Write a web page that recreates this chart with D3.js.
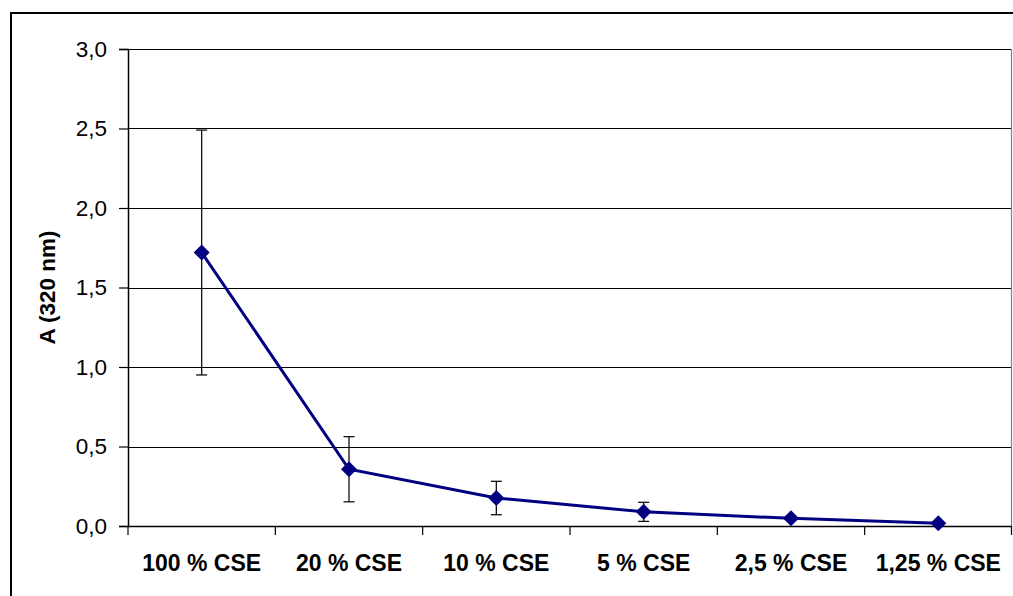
<!DOCTYPE html>
<html>
<head>
<meta charset="utf-8">
<script src="https://cdn.jsdelivr.net/npm/d3@7"></script>
<style>
  body { margin: 0; background: #fff; }
  svg { display: block; font-family: "Liberation Sans", Arial, sans-serif; }
</style>
</head>
<body>
<div id="chart"></div>
<script>
const categories = ["100 % CSE", "20 % CSE", "10 % CSE", "5 % CSE", "2,5 % CSE", "1,25 % CSE"];
const means = [1.72, 0.357, 0.176, 0.089, 0.048, 0.017];
const errors = [0.77, 0.205, 0.105, 0.06, 0.012, 0.005];
const yTicks = [0, 0.5, 1.0, 1.5, 2.0, 2.5, 3.0];

const width = 1013, height = 596;
const plot = { left: 128, top: 49, right: 1012, bottom: 526 };

const svg = d3.select("#chart")
  .append("svg")
  .attr("width", width)
  .attr("height", height);

// outer chart frame (cut off at right/bottom like the source)
svg.append("rect")
  .attr("x", 11)
  .attr("y", 13)
  .attr("width", width + 20)
  .attr("height", height + 20)
  .attr("fill", "#fff")
  .attr("stroke", "#000")
  .attr("stroke-width", 2);

const x = d3.scaleBand()
  .domain(categories)
  .range([plot.left, plot.right]);

const y = d3.scaleLinear()
  .domain([0, 3])
  .range([plot.bottom, plot.top]);

const fmt = d => d3.format(".1f")(d).replace(".", ",");

// gridlines
svg.append("g")
  .selectAll("line")
  .data(yTicks.filter(d => d > 0))
  .enter()
  .append("line")
  .attr("x1", plot.left)
  .attr("x2", plot.right)
  .attr("y1", d => Math.round(y(d)) + 0.5)
  .attr("y2", d => Math.round(y(d)) + 0.5)
  .attr("stroke", "#000")
  .attr("stroke-width", 1.2);

// right border of plot area
svg.append("line")
  .attr("x1", plot.right - 0.5)
  .attr("x2", plot.right - 0.5)
  .attr("y1", plot.top)
  .attr("y2", plot.bottom)
  .attr("stroke", "#808080")
  .attr("stroke-width", 1.2);

// y axis
const yAxis = svg.append("g")
  .attr("transform", `translate(${plot.left},0)`)
  .call(d3.axisLeft(y).tickValues(yTicks).tickFormat(fmt).tickSize(9).tickPadding(12));
yAxis.select(".domain").attr("stroke", "#000").attr("stroke-width", 1.5);
yAxis.selectAll(".tick line").attr("stroke", "#000").attr("stroke-width", 1.2);
yAxis.selectAll("text")
  .attr("fill", "#000")
  .style("font-size", "22.5px")
  .style("font-family", "'Liberation Sans', Arial, sans-serif");

// x axis with ticks on category boundaries
const xAxis = svg.append("g")
  .attr("transform", `translate(0,${plot.bottom})`);
xAxis.append("line")
  .attr("x1", plot.left)
  .attr("x2", plot.right)
  .attr("y1", 0.5)
  .attr("y2", 0.5)
  .attr("stroke", "#000")
  .attr("stroke-width", 1.5);
xAxis.selectAll("line.tick")
  .data(d3.range(categories.length + 1))
  .enter()
  .append("line")
  .attr("class", "tick")
  .attr("x1", i => i < categories.length ? x(categories[i]) : plot.right - 0.5)
  .attr("x2", i => i < categories.length ? x(categories[i]) : plot.right - 0.5)
  .attr("y1", 0)
  .attr("y2", 9)
  .attr("stroke", "#000")
  .attr("stroke-width", 1.2);
xAxis.selectAll("text")
  .data(categories)
  .enter()
  .append("text")
  .attr("x", d => x(d) + x.bandwidth() / 2)
  .attr("y", 45)
  .attr("text-anchor", "middle")
  .attr("fill", "#000")
  .style("font-size", "23px")
  .style("font-weight", "bold")
  .text(d => d);

// y axis title
svg.append("text")
  .attr("transform", `translate(55,${(plot.top + plot.bottom) / 2}) rotate(-90)`)
  .attr("text-anchor", "middle")
  .attr("fill", "#000")
  .style("font-size", "22.5px")
  .style("font-weight", "bold")
  .text("A (320 nm)");

const cx = i => x(categories[i]) + x.bandwidth() / 2;

// error bars
const errG = svg.append("g")
  .selectAll("g")
  .data(means)
  .enter()
  .append("g");
errG.append("line")
  .attr("x1", (d, i) => cx(i))
  .attr("x2", (d, i) => cx(i))
  .attr("y1", (d, i) => y(d + errors[i]))
  .attr("y2", (d, i) => y(d - errors[i]))
  .attr("stroke", "#111")
  .attr("stroke-width", 1.3);
errG.selectAll("line.cap")
  .data((d, i) => [{ v: d + errors[i], i }, { v: d - errors[i], i }])
  .enter()
  .append("line")
  .attr("class", "cap")
  .attr("x1", d => cx(d.i) - 5.5)
  .attr("x2", d => cx(d.i) + 5.5)
  .attr("y1", d => y(d.v))
  .attr("y2", d => y(d.v))
  .attr("stroke", "#111")
  .attr("stroke-width", 1.3);

// series line
const line = d3.line()
  .x((d, i) => cx(i))
  .y(d => y(d));

svg.append("path")
  .datum(means)
  .attr("d", line)
  .attr("fill", "none")
  .attr("stroke", "#000080")
  .attr("stroke-width", 3);

// diamond markers
svg.append("g")
  .selectAll("path")
  .data(means)
  .enter()
  .append("path")
  .attr("transform", (d, i) => `translate(${cx(i)},${y(d)})`)
  .attr("d", "M0,-8L8,0L0,8L-8,0Z")
  .attr("fill", "#000080");
</script>
</body>
</html>
